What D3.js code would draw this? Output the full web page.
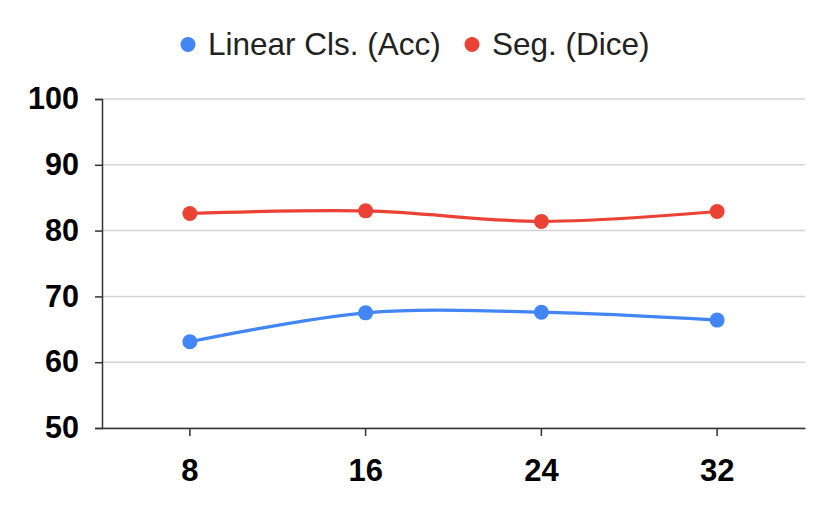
<!DOCTYPE html>
<html>
<head>
<meta charset="utf-8">
<script src="https://cdn.jsdelivr.net/npm/d3@7"></script>
<style>
  body { margin: 0; background: #fff; }
  svg { display: block; font-family: "Liberation Sans", Arial, sans-serif; }
</style>
</head>
<body>
<svg id="chart"></svg>
<script>
// chart data
var categories = ["8", "16", "24", "32"];
var seriesNames = ["Linear Cls. (Acc)", "Seg. (Dice)"];
var linearAcc = [63.1, 67.5, 67.6, 66.4];
var segDice = [82.6, 83.0, 81.4, 82.9];
var yTicks = [50, 60, 70, 80, 90, 100];
var colors = ["#4285F4", "#EA4335"];

var width = 830, height = 515;
var margin = { top: 99, right: 25, bottom: 87, left: 102 };
var innerW = width - margin.left - margin.right,
  innerH = height - margin.top - margin.bottom;

var svg = d3.select("#chart").attr("width", width).attr("height", height);
var g = svg.append("g")
  .attr("transform", "translate(" + margin.left + "," + margin.top + ")");

var x = d3.scaleBand().domain(categories).range([0, innerW]);
var y = d3.scaleLinear().domain([50, 100]).range([innerH, 0]);

// grid lines
g.append("g")
  .selectAll("line")
  .data(yTicks)
  .join("line")
  .attr("x1", 0)
  .attr("x2", innerW)
  .attr("y1", function (d) { return y(d); })
  .attr("y2", function (d) { return y(d); })
  .attr("stroke", "#d3d3d3")
  .attr("stroke-width", 1.5);

// y axis
var yAxis = d3.axisLeft(y).tickValues(yTicks).tickSize(7).tickPadding(16);
var yg = g.append("g").call(yAxis);
yg.select(".domain").attr("stroke", "#333").attr("stroke-width", 1.5);
yg.selectAll(".tick line").attr("stroke", "#333").attr("stroke-width", 1.5);
yg.selectAll("text")
  .attr("fill", "#000")
  .style("font-size", "30.5px")
  .style("font-weight", "bold");

// x axis
var xAxis = d3.axisBottom(x).tickSize(8).tickSizeOuter(0).tickPadding(23);
var xg = g.append("g").attr("transform", "translate(0," + innerH + ")").call(xAxis);
xg.select(".domain").attr("stroke", "#333").attr("stroke-width", 1.5);
xg.selectAll(".tick line").attr("stroke", "#333").attr("stroke-width", 1.5);
xg.selectAll("text")
  .attr("fill", "#000")
  .style("font-size", "31px")
  .style("font-weight", "bold");

// lines and points
var series = [linearAcc, segDice];
var line = d3.line()
  .x(function (d, i) { return x(categories[i]) + x.bandwidth() / 2; })
  .y(function (d) { return y(d); })
  .curve(d3.curveCatmullRom.alpha(0.5));

series.forEach(function (vals, s) {
  g.append("path")
    .datum(vals)
    .attr("fill", "none")
    .attr("stroke", colors[s])
    .attr("stroke-width", 3.2)
    .attr("d", line);

  g.append("g")
    .selectAll("circle")
    .data(vals)
    .join("circle")
    .attr("cx", function (d, i) { return x(categories[i]) + x.bandwidth() / 2; })
    .attr("cy", function (d) { return y(d); })
    .attr("r", 7.5)
    .attr("fill", colors[s]);
});

// legend
var legendX = [188, 472];
var legend = svg.append("g");
seriesNames.forEach(function (name, s) {
  legend.append("circle")
    .attr("cx", legendX[s])
    .attr("cy", 44.5)
    .attr("r", 7.5)
    .attr("fill", colors[s]);
  legend.append("text")
    .attr("x", legendX[s] + 20)
    .attr("y", 55)
    .attr("fill", "#222")
    .style("font-size", "31.5px")
    .text(name);
});
</script>
</body>
</html>
